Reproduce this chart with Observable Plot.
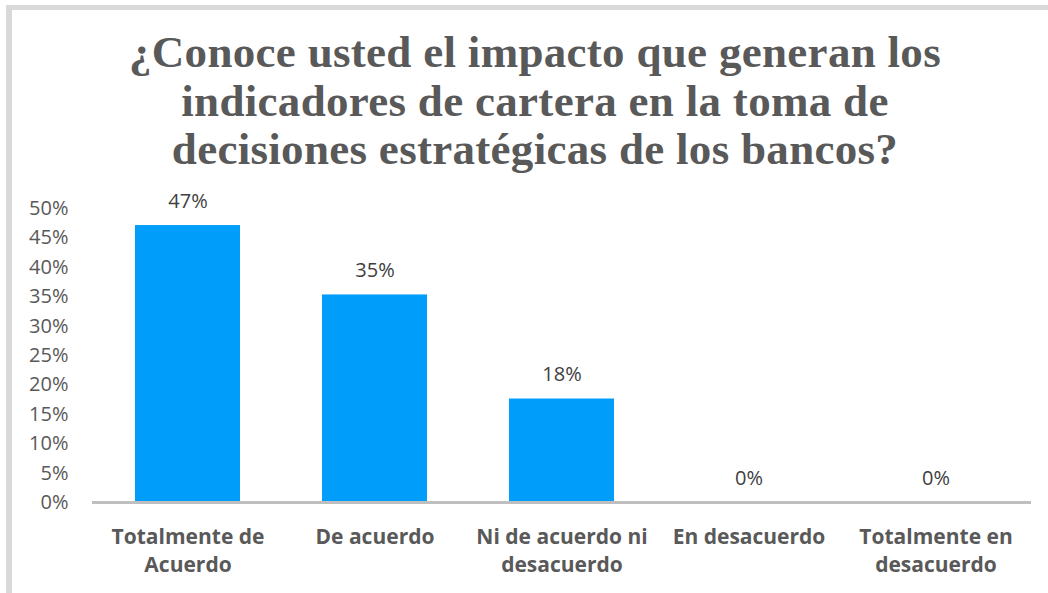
<!DOCTYPE html>
<html>
<head>
<meta charset="utf-8">
<script src="https://cdn.jsdelivr.net/npm/d3@7"></script>
<script src="https://cdn.jsdelivr.net/npm/@observablehq/plot@0.6"></script>
<style>
  html, body { margin: 0; padding: 0; background: #fff; width: 1048px; height: 593px; overflow: hidden; }
  #frame { position: absolute; left: 6px; top: 5px; width: 1060px; height: 585px;
           border-left: 6px solid #d9d9d9; border-top: 5px solid #d9d9d9; border-bottom: 2px solid #d9d9d9; box-sizing: content-box; }
  #title { position: absolute; left: 22px; top: 0; width: 1026px; height: 178px; box-sizing: border-box; padding-top: 28px;
           font-family: "Liberation Serif", "Times New Roman", serif; font-weight: bold; font-size: 45px; line-height: 48.5px;
           letter-spacing: 0.3px; color: #595959; text-align: center; }
  #chart { position: absolute; left: 0; top: 178px; }
</style>
</head>
<body>
<div id="frame"></div>
<div id="title">¿Conoce usted el impacto que generan los<br>indicadores de cartera en la toma de<br>decisiones estratégicas de los bancos?</div>
<div id="chart"></div>
<script>
const categories = ["Totalmente de Acuerdo", "De acuerdo", "Ni de acuerdo ni desacuerdo", "En desacuerdo", "Totalmente en desacuerdo"];
const tickLabels = ["Totalmente de\nAcuerdo", "De acuerdo", "Ni de acuerdo ni\ndesacuerdo", "En desacuerdo", "Totalmente en\ndesacuerdo"];
const values = [0.471, 0.353, 0.176, 0, 0];
const yTicks = [0, 0.05, 0.10, 0.15, 0.20, 0.25, 0.30, 0.35, 0.40, 0.45, 0.50];

const data = categories.map((c, i) => ({category: c, value: values[i]}));
const labelOf = new Map(categories.map((c, i) => [c, tickLabels[i]]));
const pct = d3.format(".0%");

const chart = Plot.plot({
  width: 1048,
  height: 412,
  marginTop: 30,
  marginBottom: 88,
  marginLeft: 92,
  marginRight: 17,
  style: { fontFamily: "'Open Sans', sans-serif", background: "transparent", overflow: "visible" },
  x: { domain: categories, paddingInner: 0.44, paddingOuter: 0.22 },
  y: { domain: [0, 0.5] },
  marks: [
    Plot.barY(data, { x: "category", y: "value", fill: "#009EFA" }),
    Plot.ruleY([0], { stroke: "#bfbfbf", strokeWidth: 3 }),
    Plot.text(data, { x: "category", y: "value", text: d => pct(d.value), dy: -18, lineAnchor: "bottom",
                      fontSize: 20, fill: "#404040" }),
    Plot.axisY({ ticks: yTicks, tickFormat: d3.format(".0%"), tickSize: 0, tickPadding: 24,
                 fontSize: 20, color: "#595959", label: null }),
    Plot.axisX({ tickFormat: c => labelOf.get(c), tickSize: 0, tickPadding: 21, fontSize: 21,
                 fontWeight: "bold", lineHeight: 1.35, color: "#595959", label: null })
  ]
});
document.getElementById("chart").appendChild(chart);
</script>
</body>
</html>
